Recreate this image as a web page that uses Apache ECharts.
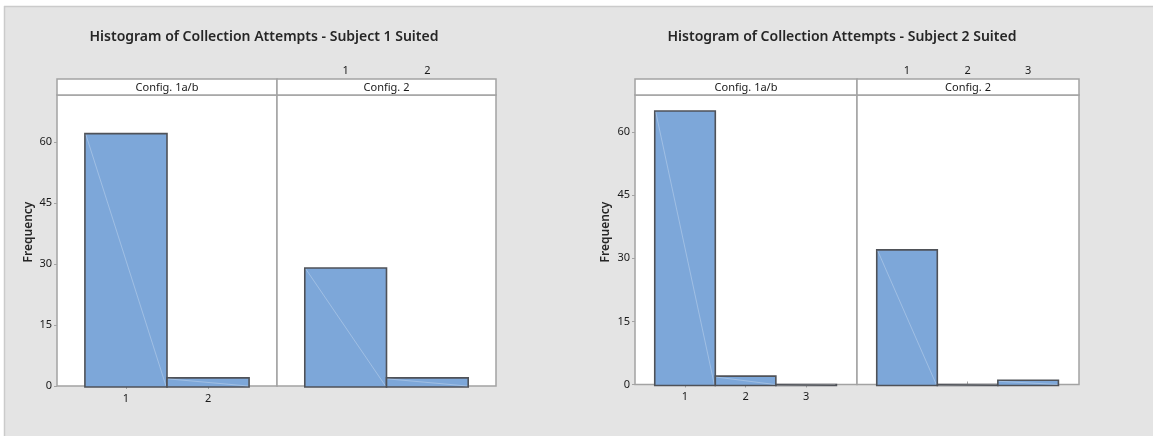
<!DOCTYPE html>
<html>
<head>
<meta charset="utf-8">
<script src="https://cdn.jsdelivr.net/npm/echarts@6/dist/echarts.min.js"></script>
<style>
html,body{margin:0;padding:0;background:#ffffff;}
#c{width:1153px;height:436px;}
</style>
</head>
<body>
<div id="c"></div>
<script>
// ---- data ----
const titles = ['Histogram of Collection Attempts - Subject 1 Suited', 'Histogram of Collection Attempts - Subject 2 Suited'];
const panelLabels = ['Config. 1a/b', 'Config. 2'];
const yAxisName = 'Frequency';
const yTicks = [0, 15, 30, 45, 60];
const binsS1 = [1, 2];
const s1Config1 = [62, 2];
const s1Config2 = [29, 2];
const binsS2 = [1, 2, 3];
const s2Config1 = [65, 2, 0];
const s2Config2 = [32, 0, 1];

// ---- layout ----
const BAR_FILL = '#7da7d9';
const BAR_EDGE = '#4f5258';
const FRAME = '#a3a3a3';
const FONT = 'Noto Sans';
const TXT = '#1a1a1a';

const charts = [
  { title: titles[0], cx: 264, bins: binsS1, vals: [s1Config1, s1Config2],
    panels: [[57, 220], [277, 219]], top: 95, bottom: 386, ymax: 71.5, xr: [0.16, 2.84], nameX: 29 },
  { title: titles[1], cx: 842, bins: binsS2, vals: [s2Config1, s2Config2],
    panels: [[635, 222], [857, 222]], top: 95, bottom: 384.5, ymax: 68.8, xr: [0.174, 3.84], nameX: 606 }
];

const grid = [], xAxis = [], yAxis = [], series = [], graphic = [];

// outer frame strips
graphic.push({type:'rect', shape:{x:0,y:0,width:1153,height:6}, style:{fill:'#ffffff'}, z:0});
graphic.push({type:'rect', shape:{x:0,y:0,width:4,height:436}, style:{fill:'#ffffff'}, z:0});
graphic.push({type:'line', shape:{x1:4,y1:6.5,x2:1153,y2:6.5}, style:{stroke:'#cbcbcb',lineWidth:1.5}, z:0});
graphic.push({type:'line', shape:{x1:4.5,y1:6,x2:4.5,y2:436}, style:{stroke:'#cbcbcb',lineWidth:1.5}, z:0});

function renderBar(params, api) {
  const x = api.value(0), v = api.value(1);
  const p0 = api.coord([x - 0.5, v]);
  const p1 = api.coord([x + 0.5, 0]);
  const w = p1[0] - p0[0], h = p1[1] - p0[1] + 1;
  return {
    type: 'group',
    children: [
      { type: 'rect', shape: { x: p0[0], y: p0[1], width: w, height: h },
        style: { fill: BAR_FILL, stroke: BAR_EDGE, lineWidth: 1.6 } },
      { type: 'line', shape: { x1: p0[0] + 1, y1: p0[1] + 1, x2: p1[0] - 1, y2: p1[1] },
        style: { stroke: 'rgba(255,255,255,0.45)', lineWidth: 0.6 } }
    ]
  };
}

charts.forEach((ch, ci) => {
  // title
  graphic.push({type:'text', x: ch.cx, y: 37, style:{text: ch.title, font: '600 14px "' + FONT + '"', fill: '#262626', align:'center', verticalAlign:'middle'}, z: 10});
  // y name
  graphic.push({type:'text', x: ch.nameX, y: 232, rotation: Math.PI/2, style:{text: yAxisName, font: '600 12px "' + FONT + '"', fill: '#262626', align:'center', verticalAlign:'middle'}, z: 10});

  ch.panels.forEach((pn, pi) => {
    const gi = grid.length;
    const [left, width] = pn;
    grid.push({ left: left, top: ch.top, width: width, height: ch.bottom - ch.top,
      show: true, backgroundColor: '#ffffff', borderColor: FRAME, borderWidth: 1.5 });
    // header strip
    graphic.push({type:'rect', shape:{x:left, y:79, width:width, height:16}, style:{fill:'#ffffff', stroke: FRAME, lineWidth:1.5}, z: 5});
    graphic.push({type:'text', x: left + width/2, y: 87.5, style:{text: panelLabels[pi], font: '11px "' + FONT + '"', fill: TXT, align:'center', verticalAlign:'middle'}, z: 10});

    const isFirst = pi === 0;
    xAxis.push({
      type: 'value', gridIndex: gi, min: ch.xr[0], max: ch.xr[1],
      position: isFirst ? 'bottom' : 'top', offset: isFirst ? 0 : 16,
      splitLine: {show:false},
      axisLine: {show: false},
      axisTick: {show: true, customValues: ch.bins, length: 3, lineStyle:{color: FRAME}},
      axisLabel: {show: true, customValues: ch.bins, margin: isFirst ? 7 : 3, fontFamily: FONT, fontSize: 11, color: TXT}
    });
    yAxis.push({
      type: 'value', gridIndex: gi, min: 0, max: ch.ymax,
      show: isFirst,
      splitLine: {show:false},
      axisLine: {show:false},
      axisTick: {show: true, customValues: yTicks, length: 3, lineStyle:{color: FRAME}},
      axisLabel: {show: true, customValues: yTicks, margin: 5, fontFamily: FONT, fontSize: 11, color: TXT}
    });
    series.push({
      type: 'custom', xAxisIndex: gi, yAxisIndex: gi,
      renderItem: renderBar,
      data: ch.bins.map((b, k) => [b, ch.vals[pi][k]]),
      z: 3, silent: true
    });
  });
});

const chart = echarts.init(document.getElementById('c'), null, {renderer: 'canvas'});
chart.setOption({
  backgroundColor: '#e4e4e4',
  animation: false,
  grid, xAxis, yAxis, series, graphic
});
</script>
</body>
</html>
